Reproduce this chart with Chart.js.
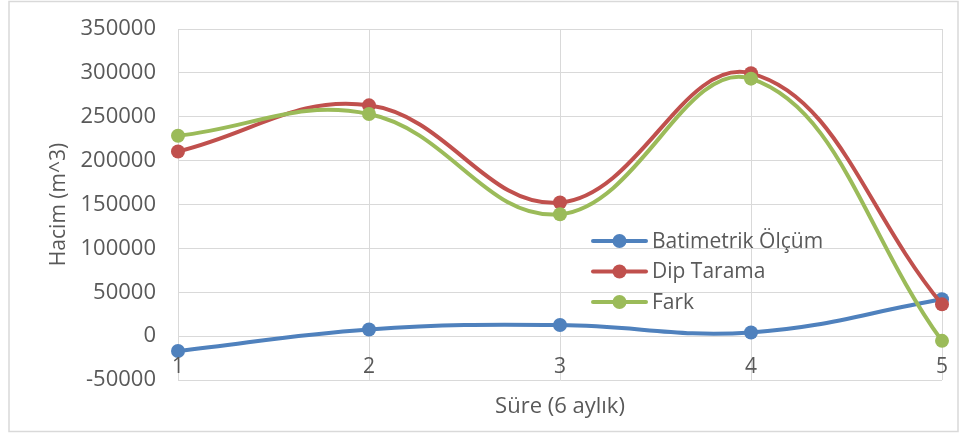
<!DOCTYPE html>
<html>
<head>
<meta charset="utf-8">
<script src="https://cdn.jsdelivr.net/npm/chart.js@4"></script>
<style>
  html, body { margin: 0; padding: 0; background: #fff; }
  #wrap { position: relative; width: 965px; height: 434px; }
</style>
</head>
<body>
<div id="wrap"><canvas id="hacimChart" width="965" height="434"></canvas></div>
<script>
const labels = ['1', '2', '3', '4', '5'];
const batimetrik = [-17000, 7600, 12600, 4200, 42000];
const dipTarama = [210400, 263000, 152200, 299500, 36200];
const fark = [228300, 253100, 138900, 293400, -5400];

const yMin = -50000;
const yMax = 350000;
const yStep = 50000;

const textColor = '#595959';
const gridColor = '#d9d9d9';
const font = "'Open Sans', sans-serif";

// outer frame, category labels under the zero line, x title
const framePlugin = {
    id: 'frame',
    beforeDraw(chart) {
        const ctx = chart.ctx;
        ctx.save();
        ctx.fillStyle = '#fff';
        ctx.fillRect(0, 0, chart.width, chart.height);
        ctx.strokeStyle = gridColor;
        ctx.lineWidth = 1.5;
        ctx.strokeRect(9, 1.5, 949, 430);
        ctx.restore();
    },
    afterDraw(chart) {
        const ctx = chart.ctx;
        const area = chart.chartArea;
        const xs = chart.scales.x;
        const y0 = chart.scales.y.getPixelForValue(0);
        ctx.save();
        ctx.fillStyle = textColor;
        ctx.font = `21px ${font}`;
        ctx.textAlign = 'center';
        ctx.textBaseline = 'middle';
        labels.forEach((lab, i) => {
            ctx.fillText(lab, xs.getPixelForValue(i), y0 + 31);
        });
        ctx.font = `22px ${font}`;
        ctx.fillText('Süre (6 aylık)', (area.left + area.right) / 2, 407);
        ctx.restore();
    }
};

// legend drawn inside the plot area
const insideLegend = {
    id: 'insideLegend',
    afterDatasetsDraw(chart) {
        const ctx = chart.ctx;
        const x0 = 593, y0 = 241, gap = 30.5;
        ctx.save();
        ctx.font = `21px ${font}`;
        ctx.textBaseline = 'middle';
        chart.data.datasets.forEach((ds, i) => {
            const y = y0 + i * gap;
            ctx.strokeStyle = ds.borderColor;
            ctx.lineWidth = 4;
            ctx.lineCap = 'round';
            ctx.beginPath();
            ctx.moveTo(x0, y);
            ctx.lineTo(x0 + 53, y);
            ctx.stroke();
            ctx.fillStyle = ds.borderColor;
            ctx.beginPath();
            ctx.arc(x0 + 26.5, y, 7, 0, Math.PI * 2);
            ctx.fill();
            ctx.fillStyle = textColor;
            ctx.fillText(ds.label, x0 + 59, y + 1);
        });
        ctx.restore();
    }
};

function series(label, data, color, order) {
    return {
        label,
        data,
        borderColor: color,
        backgroundColor: color,
        borderWidth: 4,
        pointRadius: 7,
        pointHoverRadius: 7,
        pointBackgroundColor: color,
        pointBorderWidth: 0,
        tension: 0.4,
        order
    };
}

const ctx = document.getElementById('hacimChart').getContext('2d');
new Chart(ctx, {
    type: 'line',
    data: {
        labels,
        datasets: [
            series('Batimetrik Ölçüm', batimetrik, '#4F81BD', 3),
            series('Dip Tarama', dipTarama, '#C0504D', 2),
            series('Fark', fark, '#9BBB59', 1)
        ]
    },
    options: {
        responsive: false,
        animation: false,
        layout: { padding: { left: 0, top: 29, right: 23, bottom: 54 } },
        plugins: {
            legend: { display: false },
            tooltip: { enabled: false }
        },
        scales: {
            x: {
                position: { y: 0 },
                offset: false,
                grid: { color: gridColor, lineWidth: 1, drawTicks: false },
                border: { color: gridColor, width: 1 },
                ticks: { display: false }
            },
            y: {
                min: yMin,
                max: yMax,
                grid: { color: gridColor, lineWidth: 1, drawTicks: false },
                border: { color: gridColor, width: 1 },
                ticks: {
                    stepSize: yStep,
                    color: textColor,
                    font: { family: font, size: 22 },
                    padding: 22,
                    callback: v => String(v)
                },
                title: {
                    display: true,
                    text: 'Hacim (m^3)',
                    color: textColor,
                    font: { family: font, size: 21 },
                    padding: { top: 46, bottom: 0 }
                },
                afterFit(scale) {
                    scale.width = 178;
                    // tick padding would otherwise push the plot area down
                    scale.paddingTop = 10;
                    scale.paddingBottom = 10;
                }
            }
        }
    },
    plugins: [framePlugin, insideLegend]
});
</script>
</body>
</html>
